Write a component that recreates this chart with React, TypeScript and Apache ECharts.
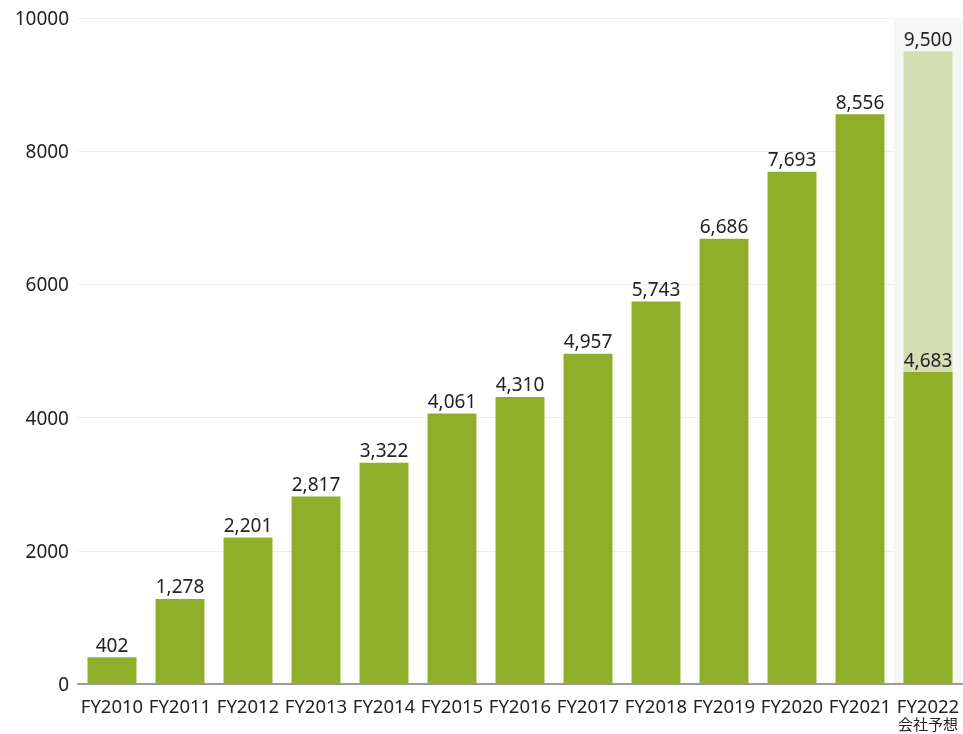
import React, { useEffect, useRef } from "react";
import * as echarts from "echarts";

const categories = ["FY2010", "FY2011", "FY2012", "FY2013", "FY2014", "FY2015", "FY2016", "FY2017", "FY2018", "FY2019", "FY2020", "FY2021", "FY2022\n会社予想"];
const actualValues = [402, 1278, 2201, 2817, 3322, 4061, 4310, 4957, 5743, 6686, 7693, 8556, 4683];
const forecastValues = [null, null, null, null, null, null, null, null, null, null, null, null, 9500];
const backgroundValues = [null, null, null, null, null, null, null, null, null, null, null, null, 10000];
const yTicks = { min: 0, max: 10000, interval: 2000 };

const FONT = "'Noto Sans', 'Noto Sans CJK JP', sans-serif";

export default function App() {
  const ref = useRef<HTMLDivElement>(null);
  useEffect(() => {
    if (!ref.current) return;
    const chart = echarts.init(ref.current, undefined, { renderer: "svg" });
    const labelFmt = (p: any) => (p.value == null ? "" : Number(p.value).toLocaleString("en-US"));
    chart.setOption({
      animation: false,
      grid: { left: 78, right: 1, top: 18, bottom: 50, containLabel: false, outerBoundsMode: "none" },
      xAxis: [
        {
          type: "category",
          data: categories,
          axisTick: { show: false },
          axisLine: { lineStyle: { color: "#9a9a9a", width: 2 } },
          axisLabel: {
            color: "#222",
            fontFamily: FONT,
            fontSize: 18.5,
            margin: 11,
            interval: 0,
            formatter: (v: string) => {
              const parts = v.split("\n");
              return parts.length > 1 ? `{a|${parts[0]}}\n{b|${parts[1]}}` : `{a|${parts[0]}}`;
            },
            rich: {
              a: { fontFamily: FONT, fontSize: 18.5, lineHeight: 20, color: "#222" },
              b: { fontFamily: FONT, fontSize: 15, lineHeight: 18, color: "#222" },
            },
          },
          z: 5,
        },
        { type: "category", data: categories, show: false },
      ],
      yAxis: {
        type: "value",
        min: yTicks.min,
        max: yTicks.max,
        interval: yTicks.interval,
        axisLabel: { color: "#222", fontFamily: FONT, fontSize: 19, margin: 9, formatter: (v: number) => String(v) },
        splitLine: { lineStyle: { color: "#eeeeee", width: 1 } },
        axisLine: { show: false },
        axisTick: { show: false },
      },
      series: [
        {
          type: "bar",
          xAxisIndex: 1,
          data: backgroundValues,
          barWidth: "100%",
          itemStyle: { color: "#f5f7f5" },
          silent: true,
          z: 0,
        },
        {
          type: "bar",
          data: forecastValues,
          barWidth: "72%",
          barGap: "-100%",
          itemStyle: { color: "#d5ddb4" },
          label: { show: true, position: "top", formatter: labelFmt, color: "#222", fontFamily: FONT, fontSize: 19, distance: 3 },
          z: 2,
        },
        {
          type: "bar",
          data: actualValues,
          barWidth: "72%",
          barGap: "-100%",
          itemStyle: { color: "#8fae29" },
          label: { show: true, position: "top", formatter: labelFmt, color: "#222", fontFamily: FONT, fontSize: 19, distance: 3 },
          z: 3,
        },
      ],
    });
    return () => chart.dispose();
  }, []);
  return <div ref={ref} style={{ position: "fixed", left: 0, top: 0, width: 963, height: 734 }} />;
}
